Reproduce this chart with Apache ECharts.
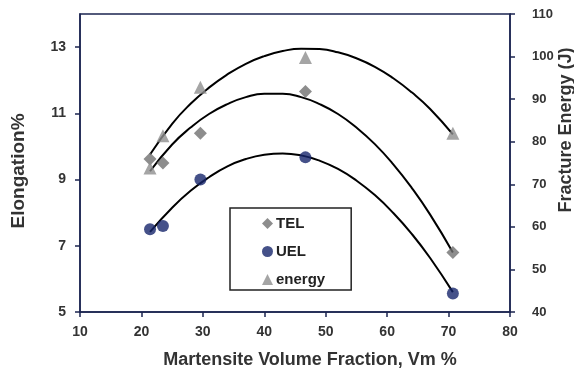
<!DOCTYPE html>
<html>
<head>
<meta charset="utf-8">
<script src="https://cdn.jsdelivr.net/npm/echarts@6/dist/echarts.min.js"></script>
<style>html,body{margin:0;padding:0;background:#fff;}#c{width:574px;height:372px;}</style>
</head>
<body>
<div id="c"></div>
<script>
// Martensite volume fraction (x) for the measured points
var vm = [21.4, 23.5, 29.6, 46.7, 70.7];
var tel = [9.62, 9.5, 10.4, 11.66, 6.8];
var uel = [7.5, 7.6, 9.0, 9.67, 5.56];
var energy = [73.8, 81.4, 92.8, 99.8, 82.0];

// Trend curves, values
var fitX = [21.4, 25, 28, 31, 34, 37, 40, 43, 46, 49, 52, 55, 58, 61, 64, 67, 70.7];
var telFit = [9.25, 10.06, 10.57, 10.98, 11.28, 11.49, 11.59, 11.59, 11.49, 11.28, 10.98, 10.57, 10.07, 9.46, 8.75, 7.94, 6.8];
var uelFit = [7.42, 8.15, 8.66, 9.07, 9.4, 9.62, 9.75, 9.79, 9.73, 9.57, 9.32, 8.97, 8.53, 7.99, 7.36, 6.63, 5.6];
var energyFit = [77.0, 84.2, 88.9, 92.7, 95.8, 98.3, 100.1, 101.3, 101.85, 101.75, 101.0, 99.6, 97.6, 94.9, 91.6, 87.7, 81.7];

var xTicks = [10, 80, 10];      // min, max, interval
var leftTicks = [5, 7, 9, 11, 13];
var rightTicks = [40, 110, 10]; // min, max, interval

function pairs(xs, ys) { return xs.map(function (x, i) { return [x, ys[i]]; }); }

var axisColor = '#1b2450';
var font = 'Liberation Sans, Arial, sans-serif';
var chart = echarts.init(document.getElementById('c'));
chart.setOption({
  animation: false,
  backgroundColor: '#fff',
  grid: { left: 80, right: 64, top: 14, bottom: 60, containLabel: false, outerBoundsMode: 'none',
          show: true, borderColor: axisColor, borderWidth: 1.5 },
  graphic: [{
    type: 'text', x: 566, y: 130, rotation: Math.PI / 2, silent: true,
    style: { text: 'Fracture Energy (J)', fontFamily: font, fontWeight: 'bold', fontSize: 18, fill: '#333',
             textAlign: 'center', textVerticalAlign: 'middle' }
  }],
  xAxis: {
    type: 'value', min: xTicks[0], max: xTicks[1], interval: xTicks[2],
    name: 'Martensite Volume Fraction, Vm %', nameLocation: 'middle', nameGap: 39,
    nameTextStyle: { fontFamily: font, fontWeight: 'bold', fontSize: 18, color: '#333', padding: [0, 0, 0, 30] },
    axisLine: { lineStyle: { color: axisColor, width: 1.5 } },
    axisTick: { inside: false, length: 5, lineStyle: { color: axisColor, width: 1.5 } },
    axisLabel: { margin: 13, fontFamily: font, fontWeight: 'bold', fontSize: 14, color: '#333' },
    splitLine: { show: false }
  },
  yAxis: [{
    type: 'value', min: 5, max: 14, position: 'left',
    name: 'Elongation%', nameLocation: 'middle', nameGap: 52,
    nameTextStyle: { fontFamily: font, fontWeight: 'bold', fontSize: 19, color: '#333', padding: [0, 16, 0, 0] },
    axisLine: { show: true, lineStyle: { color: axisColor, width: 1.5 } },
    axisTick: { show: true, length: 5, customValues: leftTicks, lineStyle: { color: axisColor, width: 1.5 } },
    axisLabel: { customValues: leftTicks, margin: 14, fontFamily: font, fontWeight: 'bold', fontSize: 14, color: '#333' },
    splitLine: { show: false }
  }, {
    type: 'value', min: rightTicks[0], max: rightTicks[1], interval: rightTicks[2], position: 'right',
    axisLine: { show: true, lineStyle: { color: axisColor, width: 1.5 } },
    axisTick: { show: true, length: 5, lineStyle: { color: axisColor, width: 1.5 } },
    axisLabel: { margin: 22, fontFamily: font, fontWeight: 'bold', fontSize: 13, color: '#333' },
    splitLine: { show: false }
  }],
  legend: {
    orient: 'vertical', left: 230, top: 208,
    data: ['TEL', 'UEL', 'energy'],
    borderColor: '#222', borderWidth: 1.5, borderRadius: 0,
    padding: [8, 26, 3, 32], itemGap: 13, itemWidth: 11, itemHeight: 11,
    textStyle: { fontFamily: font, fontWeight: 'bold', fontSize: 15, color: '#222', padding: [0, 0, 0, -2] }
  },
  series: [
    { name: 'TEL fit', type: 'line', smooth: 0.5, showSymbol: false, symbol: 'none', yAxisIndex: 0,
      data: pairs(fitX, telFit), lineStyle: { color: '#000', width: 2 }, z: 2, silent: true },
    { name: 'UEL fit', type: 'line', smooth: 0.5, showSymbol: false, symbol: 'none', yAxisIndex: 0,
      data: pairs(fitX, uelFit), lineStyle: { color: '#000', width: 2 }, z: 2, silent: true },
    { name: 'energy fit', type: 'line', smooth: 0.5, showSymbol: false, symbol: 'none', yAxisIndex: 1,
      data: pairs(fitX, energyFit), lineStyle: { color: '#000', width: 2 }, z: 2, silent: true },
    { name: 'TEL', type: 'scatter', yAxisIndex: 0, symbol: 'diamond', symbolSize: 13,
      data: pairs(vm, tel), itemStyle: { color: '#707070' }, z: 3 },
    { name: 'UEL', type: 'scatter', yAxisIndex: 0, symbol: 'circle', symbolSize: 12,
      data: pairs(vm, uel), itemStyle: { color: '#16266c' }, z: 3 },
    { name: 'energy', type: 'scatter', yAxisIndex: 1, symbol: 'triangle', symbolSize: 13,
      data: pairs(vm, energy), itemStyle: { color: '#8f8f8f' }, z: 3 }
  ]
});
</script>
</body>
</html>
